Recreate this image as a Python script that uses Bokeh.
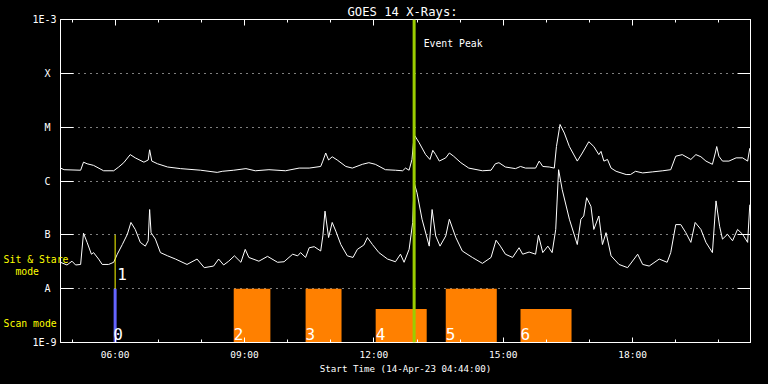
import pandas as pd
from bokeh.plotting import figure
from bokeh.models import (ColumnDataSource, FixedTicker, DatetimeTickFormatter, LinearAxis,
                          DatetimeAxis, Label, Span, Range1d, GlobalInlineStyleSheet)
from bokeh.embed import file_html
from bokeh.resources import INLINE
from bokeh.core.properties import value

# ---------------- data ----------------
DATE = "2023-04-14"
START_CLOCK = "04:44:00"
SPAN_MINUTES = 960

# GOES long channel (1-8 A): minutes after start, log10 flux (W/m^2)
long_t = [0, 5, 28, 32, 37, 46, 60, 74, 81, 88,
          97, 104, 116, 122, 124, 127, 135, 149, 167, 195,
          218, 225, 241, 258, 271, 290, 313, 332, 346, 362,
          365, 369, 373, 378, 385, 397, 406, 420, 429, 438,
          452, 466, 476, 480, 485, 489, 491, 493, 499, 508,
          514, 518, 522, 527, 536, 541, 547, 557, 568, 587,
          599, 605, 610, 619, 633, 640, 647, 661, 666, 671,
          680, 687, 690, 695, 701, 708, 719, 726, 735, 742,
          749, 752, 756, 761, 766, 773, 787, 793, 800, 810,
          824, 838, 849, 856, 865, 877, 884, 891, 898, 907,
          911, 913, 916, 921, 930, 940, 949, 956, 959]
long_log = [-5.76, -5.79, -5.80, -5.65, -5.68, -5.71, -5.81, -5.81, -5.74, -5.66,
            -5.51, -5.57, -5.65, -5.61, -5.42, -5.63, -5.68, -5.74, -5.77, -5.80,
            -5.84, -5.82, -5.80, -5.77, -5.81, -5.79, -5.81, -5.76, -5.76, -5.73,
            -5.63, -5.48, -5.61, -5.55, -5.61, -5.73, -5.76, -5.69, -5.66, -5.69,
            -5.79, -5.80, -5.81, -5.76, -5.80, -5.60, -5.30, -5.16, -5.29, -5.51,
            -5.60, -5.43, -5.51, -5.63, -5.57, -5.48, -5.54, -5.66, -5.76, -5.81,
            -5.80, -5.68, -5.66, -5.74, -5.77, -5.73, -5.76, -5.76, -5.63, -5.73,
            -5.74, -5.76, -5.36, -4.95, -5.11, -5.36, -5.63, -5.48, -5.27, -5.36,
            -5.51, -5.45, -5.63, -5.60, -5.76, -5.82, -5.88, -5.88, -5.82, -5.85,
            -5.83, -5.81, -5.79, -5.54, -5.51, -5.60, -5.51, -5.55, -5.63, -5.69,
            -5.48, -5.36, -5.54, -5.63, -5.63, -5.57, -5.57, -5.63, -5.39]

# GOES short channel (0.5-4 A): minutes after start, log10 flux (W/m^2)
short_t = [0, 9, 16, 21, 28, 32, 37, 43, 46, 53,
           58, 67, 74, 79, 86, 93, 98, 104, 111, 118,
           122, 124, 126, 132, 139, 149, 160, 176, 190, 200,
           213, 220, 227, 234, 242, 251, 257, 262, 276, 288,
           302, 311, 323, 330, 334, 341, 346, 353, 362, 365,
           368, 373, 378, 383, 390, 399, 407, 413, 422, 427,
           434, 443, 455, 466, 473, 478, 485, 490, 492, 496,
           503, 513, 517, 522, 528, 536, 541, 550, 559, 573,
           587, 599, 606, 612, 619, 629, 638, 643, 652, 661,
           665, 671, 678, 684, 689, 693, 698, 708, 719, 724,
           728, 732, 738, 742, 749, 754, 759, 766, 777, 789,
           798, 803, 810, 819, 833, 844, 849, 856, 863, 870,
           877, 883, 891, 898, 907, 912, 917, 921, 928, 935,
           942, 949, 956, 959]
short_log = [-7.51, -7.56, -7.49, -7.56, -7.55, -6.97, -7.14, -7.36, -7.33, -7.45,
             -7.55, -7.55, -7.51, -7.36, -7.18, -6.99, -6.77, -6.90, -7.14, -7.21,
             -7.11, -6.53, -6.96, -7.08, -7.33, -7.39, -7.45, -7.55, -7.45, -7.61,
             -7.58, -7.45, -7.56, -7.49, -7.39, -7.51, -7.27, -7.42, -7.49, -7.40,
             -7.51, -7.50, -7.36, -7.39, -7.33, -7.42, -7.24, -7.22, -7.30, -7.02,
             -6.56, -7.05, -6.77, -6.93, -7.18, -7.39, -7.42, -7.27, -7.19, -7.05,
             -7.18, -7.33, -7.45, -7.50, -7.36, -7.51, -7.27, -6.77, -6.03, -6.22,
             -6.71, -7.21, -6.53, -7.02, -7.21, -7.02, -6.71, -7.05, -7.30, -7.42,
             -7.53, -7.42, -7.10, -7.21, -7.36, -7.42, -7.24, -7.36, -7.32, -7.36,
             -7.01, -7.33, -7.21, -7.33, -6.90, -5.79, -6.16, -6.71, -7.18, -6.71,
             -6.65, -6.31, -6.47, -6.90, -6.65, -7.18, -6.96, -7.39, -7.55, -7.61,
             -7.45, -7.36, -7.55, -7.58, -7.45, -7.51, -7.33, -6.81, -6.81, -6.96,
             -7.14, -6.77, -6.90, -7.14, -7.33, -6.37, -6.84, -7.08, -6.99, -7.11,
             -6.90, -6.99, -7.14, -6.44]

ytick_values = [-9, -8, -7, -6, -5, -4, -3]
ytick_names = ["1E-9", "A", "B", "C", "M", "X", "1E-3"]
xtick_major = ["06:00", "09:00", "12:00", "15:00", "18:00"]
xtick_minor = ["05:00", "06:00", "07:00", "08:00", "09:00", "10:00", "11:00", "12:00",
               "13:00", "14:00", "15:00", "16:00", "17:00", "18:00", "19:00", "20:00"]

event_peak = "12:56"
marker_time = "06:00"
marker_ids = ["0", "1"]          # scan row / sit & stare row
scan_ids = ["2", "3", "4", "5", "6"]
scan_start = ["08:45", "10:25", "12:02:30", "13:40", "15:24"]
scan_end = ["09:36", "11:15", "13:13:30", "14:51", "16:35"]
scan_top = [-8.0, -8.0, -8.38, -8.0, -8.38]

mode_names = ["Sit & Stare", "mode", "Scan mode"]

title_text = "GOES 14 X-Rays:"
xlabel_text = "Start Time (14-Apr-23 04:44:00)"

# ---------------- helpers ----------------
def clock(s):
    return pd.Timestamp(f"{DATE} {s}")

START = clock(START_CLOCK)
END = START + pd.Timedelta(minutes=SPAN_MINUTES)
Y_MIN, Y_MAX = -9, -3
SCAN_ROW = (-9, -8)
SIT_ROW = (-8, -7)

def ms(ts):
    return ts.value / 1e6

FRAME_H = 323
def fy(py):
    return round(Y_MAX - py * (Y_MAX - Y_MIN) / FRAME_H, 3)

MONO = "DejaVu Sans Mono"
NB = "\u00a0"

# ---------------- figure ----------------
p = figure(width=768, height=384, x_axis_type="datetime",
           x_range=Range1d(START, END), y_range=Range1d(Y_MIN, Y_MAX),
           output_backend="svg", toolbar_location=None,
           min_border_left=60, min_border_right=18, min_border_top=19, min_border_bottom=42,
           background_fill_color="black", border_fill_color="black",
           outline_line_color="white")
p.stylesheets = [GlobalInlineStyleSheet(css="html, body { background-color: #000000; }")]

p.title.text = title_text
p.title.align = "left"
p.title.offset = 287
p.title.text_font = MONO
p.title.text_font_size = "12.2px"
p.title.text_font_style = "normal"
p.title.text_color = "white"
p.title.standoff = 2

major_ms = [ms(clock(t)) for t in xtick_major]
minor_ms = [ms(clock(t)) for t in xtick_minor]
fmt = "%H:%M"

xa = p.xaxis[0]
xa.ticker = FixedTicker(ticks=major_ms, minor_ticks=minor_ms)
xa.formatter = DatetimeTickFormatter(hours=fmt, hourmin=fmt, minutes=fmt, minsec=fmt,
                                     days=fmt, seconds=fmt)
xa.major_tick_in = 5
xa.major_tick_out = 0
xa.minor_tick_in = 3
xa.minor_tick_out = 0
xa.major_label_standoff = 6
xa.major_label_text_font = MONO
xa.major_label_text_font_size = "9.5px"
xa.major_label_text_color = "white"
xa.axis_label = xlabel_text
xa.axis_label_standoff = 0
xa.axis_label_text_font = MONO
xa.axis_label_text_font_size = "9.2px"
xa.axis_label_text_font_style = "normal"
xa.axis_label_text_color = "white"

top = DatetimeAxis(ticker=FixedTicker(ticks=major_ms, minor_ticks=minor_ms),
                   major_tick_in=6, major_tick_out=0, minor_tick_in=3, minor_tick_out=0,
                   major_label_text_font_size="0px", major_label_text_color=None,
                   major_label_standoff=0)
p.add_layout(top, "above")

for ax in (xa, top):
    ax.axis_line_color = "white"
    ax.major_tick_line_color = "white"
    ax.minor_tick_line_color = "white"

# left axis: tick marks + class names
ya = p.yaxis[0]
ya.ticker = FixedTicker(ticks=ytick_values)
ya.major_label_overrides = {v: (n if len(n) > 1 else n + NB) for v, n in zip(ytick_values, ytick_names)}
ya.major_label_standoff = 4
ya.major_label_text_font = MONO
ya.major_label_text_font_size = "10px"
ya.major_label_text_color = "white"

right = LinearAxis(ticker=FixedTicker(ticks=ytick_values),
                   major_label_text_font_size="0px", major_label_text_color=None,
                   major_label_standoff=0)
p.add_layout(right, "right")

for ax in (ya, right):
    ax.axis_line_color = "white"
    ax.major_tick_line_color = "white"
    ax.minor_tick_line_color = None
    ax.major_tick_in = 13
    ax.major_tick_out = 0

# outer left axis: yellow observing-mode names
mode_pos = [fy(239.5), fy(251.5), fy(304.5)]
mode_text = [mode_names[0], mode_names[1] + NB * 5, mode_names[2] + NB * 2]
ma = LinearAxis(ticker=FixedTicker(ticks=mode_pos),
                major_label_overrides=dict(zip(mode_pos, mode_text)),
                axis_line_color=None, major_tick_line_color=None, minor_tick_line_color=None,
                major_tick_in=0, major_tick_out=0, major_label_standoff=-39,
                major_label_text_font=MONO, major_label_text_font_size="9.8px",
                major_label_text_color="#ffff00")
p.add_layout(ma, "left")

p.xgrid.visible = False
p.ygrid[0].ticker = FixedTicker(ticks=ytick_values)
p.ygrid.grid_line_color = "white"
p.ygrid.grid_line_dash = "1 5"
p.ygrid.grid_line_width = 1

# ---------------- glyphs ----------------
long_src = ColumnDataSource(dict(t=START + pd.to_timedelta(long_t, unit="m"), v=long_log))
short_src = ColumnDataSource(dict(t=START + pd.to_timedelta(short_t, unit="m"), v=short_log))
p.line("t", "v", source=long_src, line_color="white", line_width=1)
p.line("t", "v", source=short_src, line_color="white", line_width=1)

scan_src = ColumnDataSource(dict(
    left=[clock(s) for s in scan_start], right=[clock(s) for s in scan_end],
    top=scan_top, bottom=[SCAN_ROW[0]] * len(scan_top), ids=scan_ids))
p.quad(left="left", right="right", top="top", bottom="bottom", source=scan_src,
       fill_color="#ff8000", line_color=None)

mt = clock(marker_time)
p.segment(x0=[mt], y0=[SCAN_ROW[0]], x1=[mt], y1=[SCAN_ROW[1]], line_color="#6464ff", line_width=3)
p.segment(x0=[mt], y0=[SIT_ROW[0]], x1=[mt], y1=[SIT_ROW[1]], line_color="#ffff00", line_width=1)

SCAN_BASE = -8.84
SIT_BASE = -7.73
p.text(x="left", y=SCAN_BASE, text="ids", source=scan_src, text_font=value(MONO),
       text_font_size="16px", text_color="white", text_baseline="alphabetic")
p.text(x=[mt, mt], y=[SCAN_BASE, SIT_BASE], text=marker_ids, x_offset=[-2, 2],
       text_font=value(MONO), text_font_size="16px", text_color="white",
       text_baseline="alphabetic")

p.add_layout(Span(location=ms(clock(event_peak)), dimension="height",
                  line_color="#9acd00", line_width=3))

p.add_layout(Label(x=ms(clock(event_peak)), y=fy(23.5), x_offset=9.5, text="Event Peak",
                   text_font=MONO, text_font_size="9.8px", text_color="white",
                   text_baseline="middle", text_align="left"))

open("out.html", "w").write(file_html(p, INLINE))
